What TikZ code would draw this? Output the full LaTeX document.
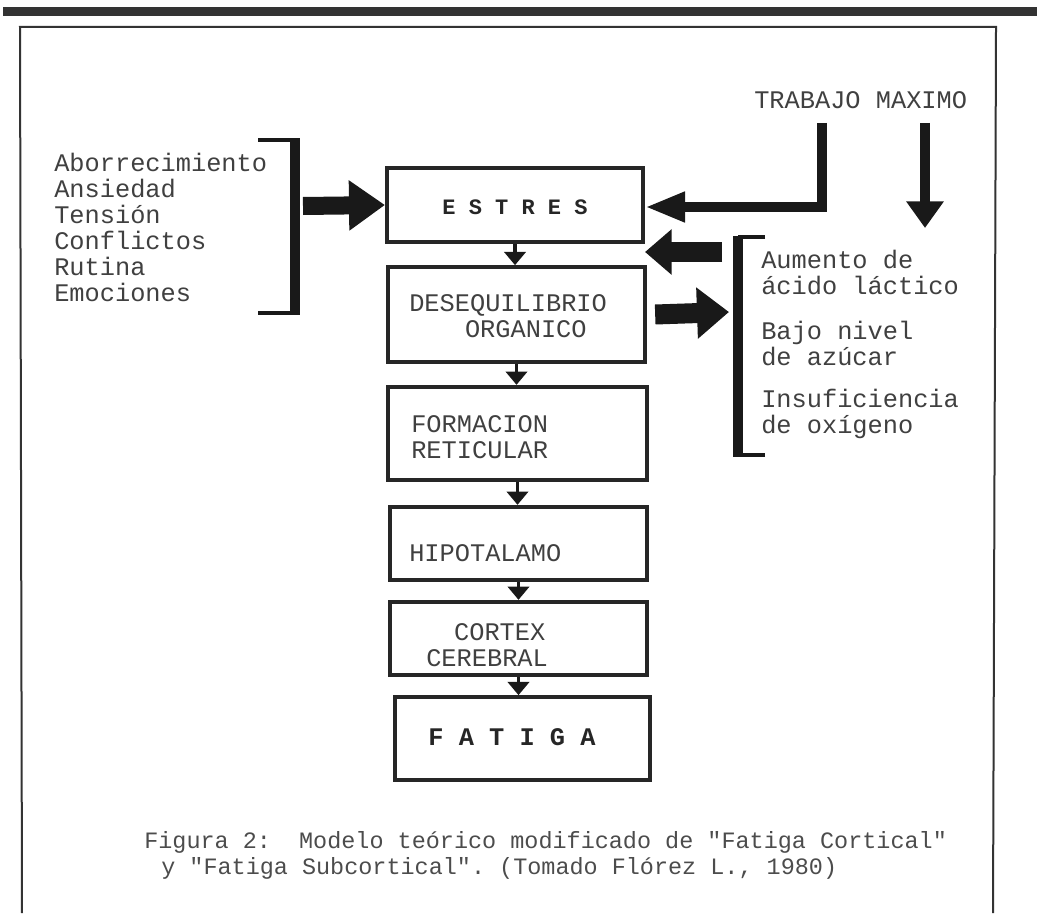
\documentclass[tikz,border=0pt]{standalone}
\usepackage{fontspec}
\setmonofont{Liberation Mono}
\usetikzlibrary{arrows.meta}

\tikzset{
  stage/.style={draw=black!85, line width=3pt, inner sep=0pt},
  typed/.style={font=\ttfamily\fontsize{19}{19.5}\selectfont, text=black!75, inner sep=0.75pt, align=left},
  capt/.style={font=\ttfamily\fontsize{17.6}{19.5}\selectfont, text=black!70, inner sep=0.75pt, align=left},
  small/.style={-{Triangle[length=10pt,width=16pt]}, line width=2.8pt, draw=black!90},
  brack/.style={draw=black!90, line width=2.6pt},
}

\begin{document}
\begin{tikzpicture}[x=0.75pt,y=0.75pt,yscale=-1,xscale=1]
\useasboundingbox (0,0) rectangle (1037,913);

%Shape: Top bar
\fill [black!80] (3,7) rectangle (1037,16);
%Shape: Frame
\draw [black!80, line width=1.5pt] (22,913) -- (20,27) -- (996,27) -- (993,913);

%Shape: Stages
\node [stage, minimum width=192pt, minimum height=55.5pt] (estres) at (515,205) {};
\node [stage, minimum width=193pt, minimum height=71pt] (deseq) at (516.5,314.5) {};
\node [stage, minimum width=194pt, minimum height=70pt] (formac) at (517.5,433.5) {};
\node [stage, minimum width=193pt, minimum height=55pt] (hipot) at (518.5,543.5) {};
\node [stage, minimum width=193pt, minimum height=55pt] (cortex) at (518.5,638.5) {};
\node [stage, minimum width=191pt, minimum height=62pt] (fatiga) at (522.5,738.5) {};

% Text Node
\node [typed, font=\ttfamily\bfseries\fontsize{16.5}{19.5}\selectfont, text=black!85] (testres) at (515,207) {E S T R E S};
% Text Node
\node [typed, anchor=west] (tdeseq) at (408,316.5) {DESEQUILIBRIO\\\hspace*{2.2em}ORGANICO};
% Text Node
\node [typed, anchor=west] (tformac) at (410,437.5) {FORMACION\\RETICULAR};
% Text Node
\node [typed, anchor=west] (thipot) at (408,553) {HIPOTALAMO};
% Text Node
\node [typed, anchor=west] (tcortex) at (425,645) {\hspace*{1.1em}CORTEX\\CEREBRAL};
% Text Node
\node [typed, font=\ttfamily\bfseries\fontsize{19}{19.5}\selectfont, text=black!85] (tfatiga) at (512,737) {F A T I G A};

% Text Node
\node [typed, anchor=west] (causas) at (53,227.5) {Aborrecimiento\\Ansiedad\\Tensión\\Conflictos\\Rutina\\Emociones};
% Text Node
\node [typed, anchor=west] (lactico) at (760,272.5) {Aumento de\\ácido láctico};
% Text Node
\node [typed, anchor=west] (azucar) at (760,343.5) {Bajo nivel\\de azúcar};
% Text Node
\node [typed, anchor=west] (oxigeno) at (760,413.5) {Insuficiencia\\de oxígeno};
% Text Node
\node [typed, anchor=west] (trabajo) at (753,100) {TRABAJO MAXIMO};

% Text Node
\node [capt, anchor=west] (capt1) at (143,842) {Figura 2:~ Modelo teórico modificado de "Fatiga Cortical"};
% Text Node
\node [capt, anchor=west] (capt2) at (160,868) {y "Fatiga Subcortical". (Tomado Flórez L., 1980)};

%Shape: Brackets
\draw [brack] (258,140) -- (295,140);
\draw [brack, line width=7.5pt] (295,138.5) -- (295,314.5);
\draw [brack] (258,313) -- (295,313);
\draw [brack] (765,237) -- (738,237);
\draw [brack, line width=7.5pt] (738,235.5) -- (738,456.5);
\draw [brack] (765,455) -- (738,455);

\coordinate (lbrk) at (303,206);
\coordinate (rbrk) at (729,312);
\coordinate (rfrom) at (722,252);
\coordinate (gap) at (645,252);
\coordinate (tm1) at (822,123);
\coordinate (tm2) at (925,123);
\coordinate (tm2e) at (925,228);

%Straight Lines: fat arrows
\draw [line width=13.5pt, black!90, -{Triangle[length=27pt,width=36pt]}] (lbrk) -- (estres.west);
\draw [line width=15pt, black!90, -{Triangle[length=20pt,width=33pt]}] (rfrom) -- (gap);
\draw [line width=15pt, black!90, -{Triangle[length=24pt,width=37pt]}] ([xshift=6pt]deseq.east) -- (rbrk);
\draw [line width=7.5pt, black!90, -{Triangle[length=30pt,width=21pt]}] (tm1) |- ([yshift=1.5pt]estres.east);
\draw [line width=7.5pt, black!90, -{Triangle[length=20pt,width=27pt]}] (tm2) -- (tm2e);

%Straight Lines: small arrows
\draw [small] (estres.south) -- (estres.south |- deseq.north);
\draw [small] (deseq.south) -- (deseq.south |- formac.north);
\draw [small] (formac.south) -- (formac.south |- hipot.north);
\draw [small] (hipot.south) -- (hipot.south |- cortex.north);
\draw [small] (cortex.south) -- (cortex.south |- fatiga.north);

\end{tikzpicture}
\end{document}
